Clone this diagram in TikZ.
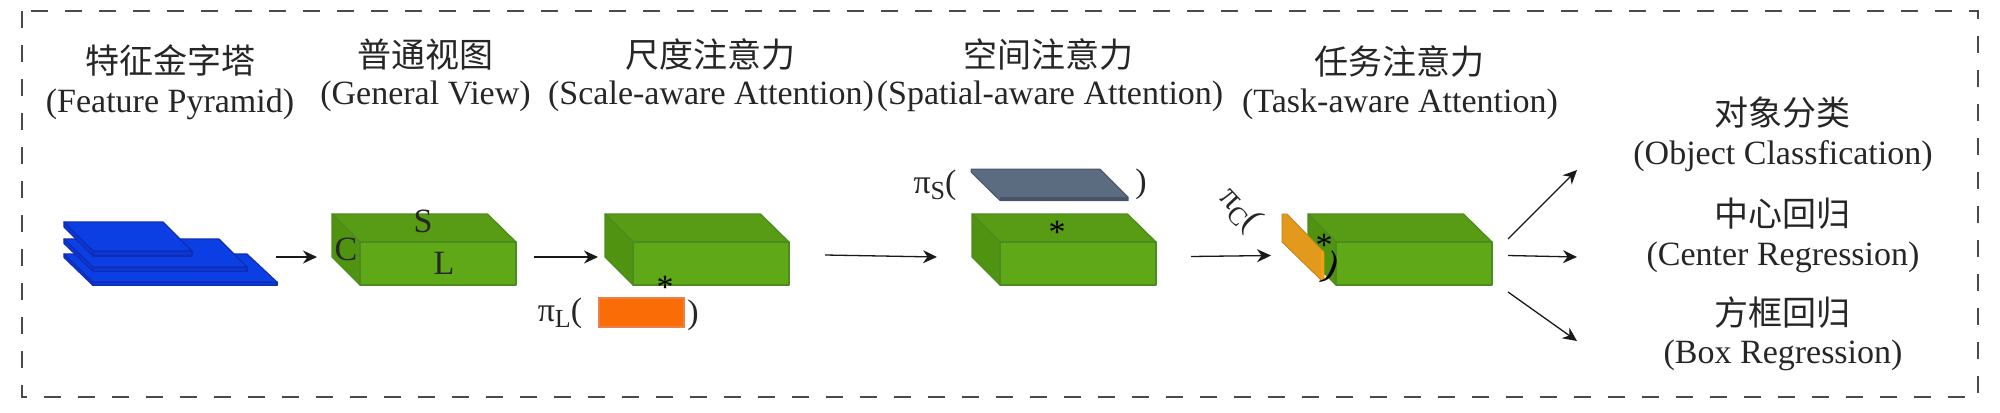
\documentclass[tikz,border=0pt]{standalone}
\usepackage{fontspec}
\setmainfont{Liberation Serif}
\newfontfamily\cjkfont{Noto Sans CJK SC}
\usetikzlibrary{arrows.meta}
\definecolor{frameC}{HTML}{4A4A4A}
\definecolor{gFront}{HTML}{5FA817}
\definecolor{gTop}{HTML}{579C14}
\definecolor{gSide}{HTML}{4F9311}
\definecolor{gEdge}{HTML}{4C8C1E}
\definecolor{bTop}{HTML}{0C3FE3}
\definecolor{bSide}{HTML}{0B38D2}
\definecolor{bEdge}{HTML}{0F2CB4}
\definecolor{orangeC}{HTML}{F96C06}
\definecolor{orangeE}{HTML}{E8804A}
\definecolor{slateT}{HTML}{5C6C80}
\definecolor{slateF}{HTML}{465568}
\definecolor{yellowC}{HTML}{E39A1C}
\definecolor{yellowE}{HTML}{F0A010}
\tikzset{
  cn/.style={inner sep=0pt,yshift=-0.8pt,font=\cjkfont\fontsize{17}{18}\selectfont,text=black!85},
  en/.style={inner sep=0pt,yshift=-1.4pt,font=\fontsize{17}{19}\selectfont,text=black!85},
  axislabel/.style={inner sep=0pt,font=\fontsize{17}{19}\selectfont,text=black!85},
  stargl/.style={inner sep=0pt,font=\fontsize{17}{19}\selectfont},
  arrowline/.style={-{Stealth[length=7pt,width=6.5pt]},line width=0.65pt,black!90},
  faceline/.style={draw=gEdge,line width=0.6pt,line join=round},
  bluelayer/.style={draw=bEdge,line width=0.55pt,line join=round},
  boxframe/.style={draw=frameC,line width=1pt,dash pattern=on 8.5pt off 8.5pt}
}
\newcommand{\greencube}[1]{%
  \begin{scope}[shift={(#1,0)}]
    \path[faceline,fill=gTop] (0,214)--(155.5,214)--(184,242)--(28,242)--cycle;
    \path[faceline,fill=gSide] (0,214)--(28,242)--(28,285)--(0,257)--cycle;
    \path[faceline,fill=gFront] (28,242)--(184,242)--(184,285)--(28,285)--cycle;
  \end{scope}}
% #1 back y, #2 back right x, #3 front right x, #4 front y, #5 thickness
\newcommand{\bluelayershape}[5]{%
  \path[bluelayer,fill=bSide] (64,#1)--(93,#4)--(93,#4+#5)--(64,#1+#5)--cycle;
  \path[bluelayer,fill=bSide] (93,#4)--(#3,#4)--(#3,#4+#5)--(93,#4+#5)--cycle;
  \path[bluelayer,fill=bTop] (64,#1)--(#2,#1)--(#3,#4)--(93,#4)--cycle;}
\begin{document}
\begin{tikzpicture}[x=0.5pt,y=-0.5pt]
\useasboundingbox (0,0) rectangle (2000,412);
\path[fill=white] (0,0) rectangle (2000,412);
\draw[boxframe] (22,11) rectangle (1978,397);

% feature pyramid
\bluelayershape{254}{247}{277}{282}{3.5}
\bluelayershape{239}{219}{247}{267}{4.5}
\bluelayershape{222}{163}{192}{251}{5}

% cubes
\greencube{332}
\greencube{605}
\greencube{972}
\greencube{1308}

% attention shapes
\node[draw=orangeE,fill=orangeC,line width=0.6pt,minimum width=42.5pt,minimum height=14.5pt,inner sep=0pt] (orangebar) at (641.5,312.5) {};
\path[fill=slateT,draw=slateF,line width=0.5pt,line join=round] (971,169)--(1100,169)--(1128,197)--(1128,200.5)--(1000,200.5)--(971,172)--cycle;
\path[fill=slateF] (1000,197)--(1128,197)--(1128,200.5)--(1000,200.5)--cycle;
\path[fill=yellowC,draw=yellowC!85!black,line width=0.4pt,line join=round] (1282,214)--(1287,214)--(1324,252)--(1324,280)--(1321,280)--(1282,242)--cycle;
\path[fill=yellowE] (1321,250)--(1324,252)--(1324,280)--(1321,280)--cycle;

% headings
\node[cn] (t1) at (170,59) {特征金字塔};
\node[en] (e1) at (170,102) {(Feature Pyramid)};
\node[cn] (t2) at (425,53) {普通视图};
\node[en] (e2) at (425.5,94) {(General View)};
\node[cn] (t3) at (710,53) {尺度注意力};
\node[en] (e3) at (711,94) {(Scale-aware Attention)};
\node[cn] (t4) at (1048,53) {空间注意力};
\node[en] (e4) at (1050,94) {(Spatial-aware Attention)};
\node[cn] (t5) at (1399,60) {任务注意力};
\node[en] (e5) at (1400,102) {(Task-aware Attention)};
\node[cn] (t6) at (1782,111) {对象分类};
\node[en] (e6) at (1783,153) {(Object Classfication)};
\node[cn] (t7) at (1782,212) {中心回归};
\node[en] (e7) at (1783,255) {(Center Regression)};
\node[cn] (t8) at (1782,311) {方框回归};
\node[en] (e8) at (1783,353) {(Box Regression)};

% axis labels
\node[axislabel] (S) at (423,221) {S};
\node[axislabel] (C) at (346,249) {C};
\node[axislabel] (L) at (444,263) {L};

% multiplication stars
\node[stargl] (s1) at (665,287) {*};
\node[stargl] (s2) at (1057,232) {*};
\node[stargl] (s3) at (1324,245) {*};

% pi labels
\node[en] (piL) at (560,311) {π\raisebox{-3pt}{\fontsize{13}{14}\selectfont L}(};
\node[en] (closeL) at (693,313) {)};
\node[en] (piS) at (935,183) {π\raisebox{-3pt}{\fontsize{13}{14}\selectfont S}(};
\node[en] (closeS) at (1141,182) {)};
\node[en,rotate=-47] (piC) at (1240,207) {π\raisebox{-3pt}{\fontsize{13}{14}\selectfont C}(};
\node[inner sep=0pt,font=\fontsize{19}{20}\selectfont,rotate=-22] (closeC) at (1331,268) {)};

% connectors
\coordinate (a1s) at (276,257);  \coordinate (a1e) at (317,257);
\coordinate (a2s) at (533.5,257);\coordinate (a2e) at (598,257);
\coordinate (a3s) at (825,255);  \coordinate (a3e) at (937,257);
\coordinate (a4s) at (1191,256.5);\coordinate (a4e) at (1271,255.5);
\coordinate (o1s) at (1508,239); \coordinate (o1e) at (1577,170);
\coordinate (o2s) at (1508,255.5);\coordinate (o2e) at (1577,257);
\coordinate (o3s) at (1508,292); \coordinate (o3e) at (1577,341);
\draw[arrowline] (a1s) -- (a1e);
\draw[arrowline] (a2s) -- (a2e);
\draw[arrowline] (a3s) -- (a3e);
\draw[arrowline] (a4s) -- (a4e);
\draw[arrowline] (o1s) -- (o1e);
\draw[arrowline] (o2s) -- (o2e);
\draw[arrowline] (o3s) -- (o3e);
\end{tikzpicture}
\end{document}
